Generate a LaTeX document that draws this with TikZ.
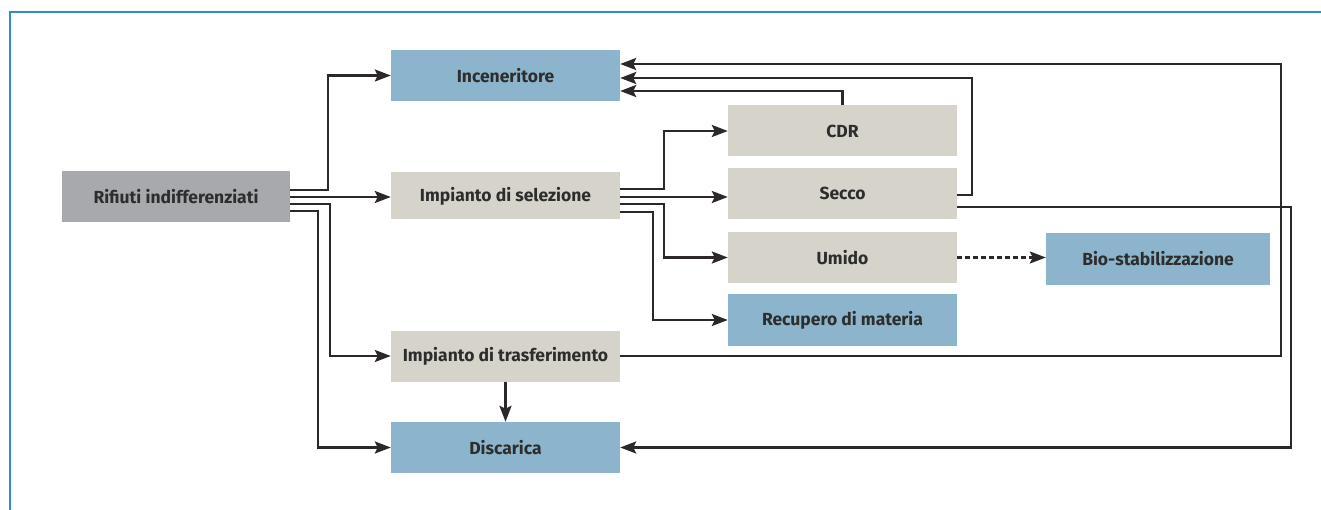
\documentclass[tikz,border=0pt]{standalone}
\usepackage{fontspec}
\setmainfont{Fira Sans}
\usetikzlibrary{arrows.meta,calc}
\definecolor{boxblue}{RGB}{140,181,205}
\definecolor{boxbeige}{RGB}{214,211,203}
\definecolor{boxgray}{RGB}{168,169,172}
\definecolor{linec}{RGB}{45,40,40}
\definecolor{framec}{RGB}{46,143,200}
\definecolor{txt}{RGB}{45,45,45}
\tikzset{
  box/.style={rectangle, inner sep=0pt, minimum width=229pt, minimum height=51pt,
    font=\fontsize{17.5}{20}\selectfont\bfseries, text=txt},
  bluebox/.style={box, fill=boxblue},
  beigebox/.style={box, fill=boxbeige},
  graybox/.style={box, fill=boxgray},
  arr/.style={draw=linec, line width=2.6pt, -{Stealth[length=16pt,width=12pt,inset=3pt]}},
  dasharr/.style={arr, dash pattern=on 5pt off 3pt, line width=2.2pt},
  frameline/.style={draw=framec, line width=1.6pt}
}
\begin{document}
\begin{tikzpicture}[x=1pt,y=-1pt]
\useasboundingbox (0,0) rectangle (1321,510);
\fill[white] (0,0) rectangle (1321,510);
% frame
\draw[frameline] (10,510) -- (10,12) -- (1321,12);

% nodes
\node[graybox, minimum width=228pt] (rif) at (176,197) {Rifiuti indifferenziati};
\node[bluebox] (inc) at (505.5,75.5) {Inceneritore};
\node[beigebox, minimum height=47pt] (sel) at (505.5,196) {Impianto di selezione};
\node[beigebox] (tra) at (505.5,356) {Impianto di trasferimento};
\node[bluebox] (dis) at (505.5,447.5) {Discarica};
\node[beigebox] (cdr) at (842.5,131) {CDR};
\node[beigebox] (sec) at (842.5,193.5) {Secco};
\node[beigebox] (umi) at (842.5,257.5) {Umido};
\node[bluebox] (rec) at (842.5,320) {Recupero di materia};
\node[bluebox, minimum width=224pt, minimum height=52pt] (bio) at (1158,259) {Bio-stabilizzazione};

% connectors from Rifiuti indifferenziati
\draw[arr] (rif.east |- 0,190) -- (328,190) |- (inc.west);
\draw[arr] (rif.east |- 0,197) -- (sel.west |- 0,197);
\draw[arr] (rif.east |- 0,204) -- (330,204) |- (tra.west);
\draw[arr] (rif.east |- 0,211) -- (318,211) |- (dis.west);

% connectors from Impianto di selezione
\draw[arr] (sel.east |- 0,189) -- (664,189) |- (cdr.west);
\draw[arr] (sel.east |- 0,197) -- (sec.west |- 0,197);
\draw[arr] (sel.east |- 0,204) -- (664,204) |- (umi.west);
\draw[arr] (sel.east |- 0,212) -- (653,212) |- (rec.west);

% back to Inceneritore
\draw[arr] (tra.east) -- (1281,356) |- (inc.east |- 0,64);
\draw[arr] (sec.east |- 0,195) -- (972,195) |- (inc.east |- 0,78);
\draw[arr] (cdr.north) |- (inc.east |- 0,91);

% to Discarica
\draw[arr] (sec.east |- 0,207) -- (1291,207) |- (dis.east);
\draw[arr] (tra.south) -- (dis.north);

% Umido -> Bio-stabilizzazione
\draw[dasharr] (umi.east) -- (bio.west |- umi.east);
\end{tikzpicture}
\end{document}
